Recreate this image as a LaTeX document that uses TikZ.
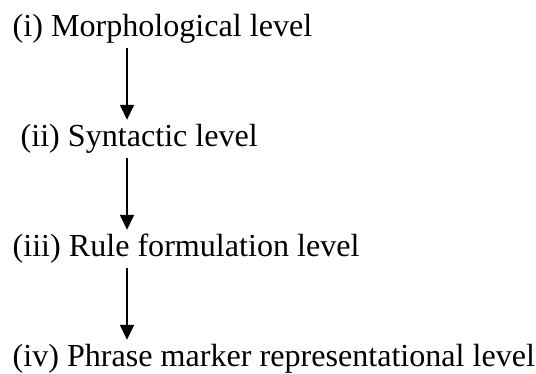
\documentclass[tikz,border=0pt]{standalone}
\usepackage{fontspec}
\setmainfont{Liberation Serif}
\usetikzlibrary{arrows.meta}
\begin{document}
\begin{tikzpicture}[x=1pt,y=1pt,
  level/.style={anchor=base west, inner sep=0pt, text height=26pt, text depth=7pt,
    font=\fontsize{32.1}{38}\selectfont},
  flow/.style={line width=1.6pt, -{Triangle[width=14pt,length=15pt]}, shorten <=5pt}]
\useasboundingbox (0,0) rectangle (536,-373);
% vertical line along which the arrows run
\coordinate (axis) at (127,0);
\node[level] (l1) at (12.5,-36)  {(i) Morphological level};
\node[level] (l2) at (20.5,-146) {(ii) Syntactic level};
\node[level] (l3) at (12.5,-256) {(iii) Rule formulation level};
\node[level] (l4) at (12.5,-366) {(iv) Phrase marker representational level};
\draw[flow] (l1.south -| axis) -- (l2.north -| axis);
\draw[flow] (l2.south -| axis) -- (l3.north -| axis);
\draw[flow] (l3.south -| axis) -- (l4.north -| axis);
\end{tikzpicture}
\end{document}
